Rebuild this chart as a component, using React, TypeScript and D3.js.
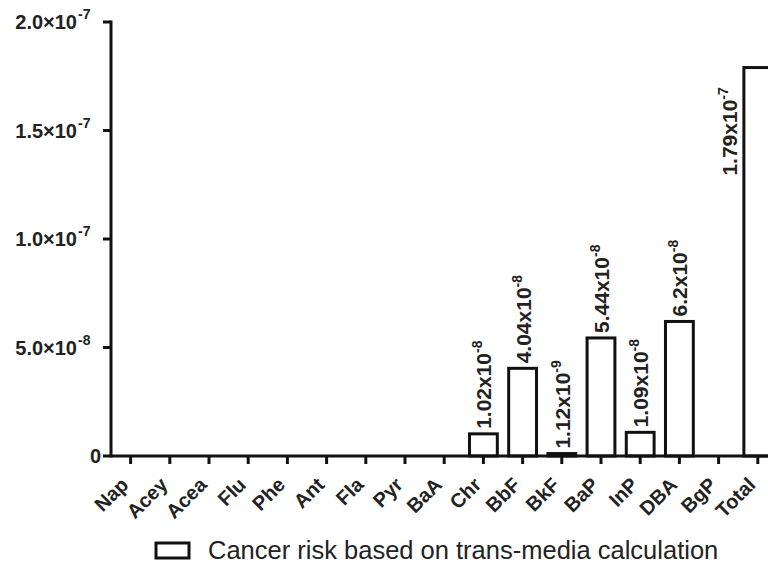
import React from "react";
import * as d3 from "d3";

// PAH compounds and their cancer risk (trans-media calculation)
const categories = ["Nap", "Acey", "Acea", "Flu", "Phe", "Ant", "Fla", "Pyr", "BaA", "Chr", "BbF", "BkF", "BaP", "InP", "DBA", "BgP", "Total"];
const riskValues = [0, 0, 0, 0, 0, 0, 0, 0, 0, 1.02e-8, 4.04e-8, 1.12e-9, 5.44e-8, 1.09e-8, 6.2e-8, 0, 1.79e-7];
// Value labels: [mantissa, exponent]; null where no label is drawn
const valueLabels: ([string, string] | null)[] = [
  null, null, null, null, null, null, null, null, null,
  ["1.02x10", "-8"], ["4.04x10", "-8"], ["1.12x10", "-9"], ["5.44x10", "-8"],
  ["1.09x10", "-8"], ["6.2x10", "-8"], null, ["1.79x10", "-7"],
];
const yTicks: [number, string, string][] = [
  [0, "0", ""],
  [5e-8, "5.0\u00d710", "-8"],
  [1e-7, "1.0\u00d710", "-7"],
  [1.5e-7, "1.5\u00d710", "-7"],
  [2e-7, "2.0\u00d710", "-7"],
];
const legendLabel = "Cancer risk based on trans-media calculation";

const W = 768;
const H = 565;
const FONT = "Liberation Sans, Arial, Helvetica, sans-serif";

export default function App() {
  const x0 = 111;
  const y0 = 456;
  const x = d3.scaleBand<string>().domain(categories).range([x0, x0 + 17 * 39.2]).paddingInner(0.29).paddingOuter(0.145);
  const y = d3.scaleLinear().domain([0, 2e-7]).range([y0, 22]);

  return (
    <svg width={W} height={H} style={{ position: "absolute", left: 0, top: 0, background: "#fff" }} fontFamily={FONT}>
      {/* bars */}
      {categories.map((c, i) => {
        const v = riskValues[i];
        if (v <= 0) return null;
        const bx = x(c)!;
        const top = y(v);
        return (
          <rect key={c} x={bx} y={top} width={x.bandwidth()} height={y0 - top}
            fill="#fff" stroke="#111" strokeWidth={3} />
        );
      })}
      {/* value labels */}
      {categories.map((c, i) => {
        const lab = valueLabels[i];
        if (!lab) return null;
        const cx = x(c)! + x.bandwidth() / 2;
        const isTotal = c === "Total";
        // the Total label sits beside its tall bar rather than above it
        const tx = isTotal ? cx - 21 : cx + 8;
        const ty = isTotal ? y(riskValues[i]) + 108 : y(riskValues[i]) - 5;
        return (
          <text key={c} transform={`translate(${tx},${ty}) rotate(-90)`}
            fontSize={21} fontWeight="bold" fill="#222" textAnchor="start">
            {lab[0]}
            <tspan fontSize={14} dy={-9}>{lab[1]}</tspan>
          </text>
        );
      })}
      {/* y axis */}
      <line x1={x0} x2={x0} y1={y(2e-7) - 1.5} y2={y0 + 1.5} stroke="#111" strokeWidth={3} />
      {yTicks.map(([v, m, e]) => (
        <g key={v}>
          <line x1={x0 - 8} x2={x0} y1={y(v)} y2={y(v)} stroke="#111" strokeWidth={3} />
          <text x={e ? 77 : x0 - 10} y={y(v) + 7} textAnchor="end" fontSize={20} fontWeight="bold" fill="#222">
            {m}
          </text>
          {e && (
            <text x={78} y={y(v) - 3} fontSize={14} fontWeight="bold" fill="#222">{e}</text>
          )}
        </g>
      ))}
      {/* x axis */}
      <line x1={x0} x2={W} y1={y0} y2={y0} stroke="#111" strokeWidth={3} />
      {categories.map((c) => {
        const cx = x(c)! + x.bandwidth() / 2;
        return (
          <g key={c}>
            <line x1={cx} x2={cx} y1={y0} y2={y0 + 8} stroke="#111" strokeWidth={3} />
            <text transform={`translate(${cx - 1},${y0 + 30}) rotate(-45)`} textAnchor="end"
              fontSize={20} fontWeight="bold" fill="#222">{c}</text>
          </g>
        );
      })}
      {/* legend */}
      <rect x={156} y={543} width={33} height={15} fill="#fff" stroke="#111" strokeWidth={3} />
      <text x={208} y={559} fontSize={25.5} fill="#222">{legendLabel}</text>
    </svg>
  );
}
